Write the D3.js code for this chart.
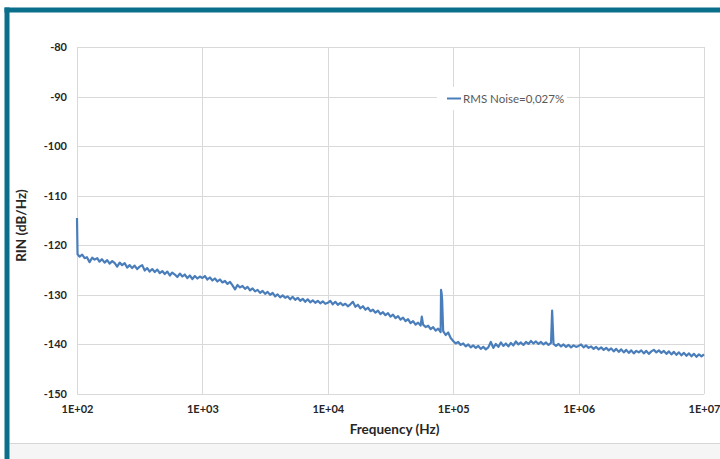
<!DOCTYPE html>
<html>
<head>
<meta charset="utf-8">
<script src="https://cdn.jsdelivr.net/npm/d3@7"></script>
<style>
  html, body { margin: 0; padding: 0; background: #ffffff; }
  svg { display: block; }
  text { font-family: Lato, "Open Sans", "DejaVu Sans", sans-serif; }
</style>
</head>
<body>
<svg id="chart" width="720" height="459"></svg>
<script>
// ---- Data: [frequency (Hz), RIN (dB/Hz)] ----
const decade2 = [
  [100,-114.5],[101,-121.8],[105,-122.3],[110,-121.9],[115,-122.6],[120,-122.4],[126,-123.4],[132,-122.5],[138,-122.9],[145,-122.6],
  [151,-123.3],[158,-122.8],[166,-123.5],[174,-123.0],[182,-123.7],[191,-123.2],[200,-123.6],[209,-124.3],[219,-123.5],[229,-124.0],
  [240,-123.6],[251,-124.5],[263,-124.0],[275,-124.6],[288,-124.1],[302,-124.8],[316,-124.3],[331,-124.0],[347,-125.1],[363,-124.6],
  [380,-125.3],[398,-124.8],[417,-125.4],[437,-124.9],[457,-125.6],[479,-125.2],[501,-125.8],[525,-125.3],[550,-126.1],[575,-125.5],
  [603,-125.9],[631,-126.4],[661,-125.7],[692,-126.3],[724,-125.9],[759,-126.6],[794,-126.1],[832,-126.8],[871,-126.2],[912,-126.7],
  [955,-126.3]
];
const decade3 = [
  [1000,-126.6],[1047,-126.2],[1096,-126.9],[1148,-126.5],[1202,-127.1],[1259,-126.7],[1318,-127.3],[1380,-126.9],[1445,-127.5],[1514,-127.2],
  [1585,-127.8],[1660,-127.4],[1738,-128.1],[1820,-128.9],[1905,-128.0],[1995,-128.5],[2089,-128.2],[2188,-128.8],[2291,-128.4],[2399,-129.1],
  [2512,-128.7],[2630,-129.3],[2754,-129.0],[2884,-129.6],[3020,-129.2],[3162,-129.8],[3311,-129.4],[3467,-130.0],[3631,-129.6],[3802,-130.3],
  [3981,-129.9],[4169,-130.5],[4365,-130.1],[4571,-130.6],[4786,-130.3],[5012,-130.9],[5248,-130.4],[5495,-131.0],[5754,-130.6],[6026,-131.2],
  [6310,-130.8],[6607,-131.4],[6918,-130.9],[7244,-131.5],[7586,-131.1],[7943,-131.6],[8318,-131.2],[8710,-131.7],[9120,-131.3],[9550,-131.8]
];
const decade4 = [
  [10000,-131.6],[10470,-131.2],[10960,-131.9],[11480,-131.4],[12020,-132.0],[12590,-131.6],[13180,-132.1],[13800,-131.8],[14450,-132.3],[15140,-131.9],
  [15850,-131.4],[16600,-132.4],[17380,-132.0],[18200,-132.7],[19050,-132.3],[19950,-133.0],[20890,-132.6],[21880,-133.3],[22910,-133.0],[23990,-133.6],
  [25120,-133.2],[26300,-133.9],[27540,-133.5],[28840,-134.1],[30200,-133.7],[31620,-134.4],[33110,-134.0],[34670,-134.7],[36310,-134.3],[38020,-135.0],
  [39810,-134.6],[41690,-135.3],[43650,-134.9],[45710,-135.7],[47860,-135.3],[50120,-136.0],[52480,-135.6],[54950,-136.2],[56200,-134.4],[57540,-136.0],
  [60260,-136.5],[63100,-136.2],[66070,-136.9],[69180,-136.5],[72440,-137.2],[75860,-136.8],[79430,-137.5],[80000,-129.0],[80800,-129.6],[81600,-131.0],
  [83180,-137.3],[87100,-138.1],[91200,-137.6],[95500,-138.7]
];
const decade5 = [
  [100000,-139.3],[104700,-139.8],[109600,-139.5],[114800,-140.1],[120200,-139.8],[125900,-140.4],[131800,-140.0],[138000,-140.6],[144500,-140.2],[151400,-140.7],
  [158500,-140.3],[166000,-140.9],[173800,-140.5],[182000,-141.0],[190500,-140.6],[199500,-139.5],[208900,-140.7],[218800,-139.9],[229100,-140.5],[239900,-139.6],
  [251200,-140.3],[263000,-139.8],[275400,-140.4],[288400,-139.7],[302000,-140.2],[316200,-139.4],[331100,-140.0],[346700,-139.6],[363100,-140.1],[380200,-139.5],
  [398100,-139.9],[416900,-139.3],[436500,-139.8],[457100,-139.4],[478600,-139.9],[501200,-139.5],[524800,-140.0],[549500,-139.6],[575400,-140.1],[602600,-139.7],
  [615000,-133.2],[631000,-139.9],[660700,-140.3],[691800,-139.9],[724400,-140.4],[758600,-140.0],[794300,-140.5],[831800,-140.1],[871000,-140.6],[912000,-140.2],
  [955000,-140.5]
];
const decade6 = [
  [1000000,-140.3],[1047000,-140.0],[1096000,-140.6],[1148000,-140.2],[1202000,-140.7],[1259000,-140.4],[1318000,-140.9],[1380000,-140.5],[1445000,-141.0],[1514000,-140.6],
  [1585000,-141.1],[1660000,-140.7],[1738000,-141.2],[1820000,-140.8],[1905000,-141.4],[1995000,-140.9],[2089000,-141.5],[2188000,-141.0],[2291000,-141.6],[2399000,-141.1],
  [2512000,-141.7],[2630000,-141.2],[2754000,-141.8],[2884000,-141.3],[3020000,-141.6],[3162000,-141.2],[3311000,-141.8],[3467000,-141.3],[3631000,-141.9],[3802000,-141.4],
  [3981000,-141.1],[4169000,-141.6],[4365000,-141.2],[4571000,-141.7],[4786000,-141.3],[5012000,-141.9],[5248000,-141.4],[5495000,-142.0],[5754000,-141.5],[6026000,-142.1],
  [6310000,-141.6],[6607000,-142.2],[6918000,-141.7],[7244000,-142.3],[7586000,-141.8],[7943000,-142.4],[8318000,-141.9],[8710000,-142.5],[9120000,-142.0],[9550000,-142.4],
  [10000000,-142.0]
];
const xTickValues = [1e2, 1e3, 1e4, 1e5, 1e6, 1e7];
const xTickLabels = ["1E+02", "1E+03", "1E+04", "1E+05", "1E+06", "1E+07"];
const yTickValues = [-150, -140, -130, -120, -110, -100, -90, -80];
const seriesName = "RMS Noise=0,027%";
const xTitle = "Frequency (Hz)";
const yTitle = "RIN (dB/Hz)";

const data = [].concat(decade2, decade3, decade4, decade5, decade6);

// ---- Layout ----
const svg = d3.select("#chart");
const W = 720, H = 459;
const plot = { left: 77, right: 704, top: 47, bottom: 394 };
const teal = "#0a6f8b";
const lineColor = "#4a7ebb";
const gridColor = "#d9d9d9";

// frame decorations
svg.append("rect").attr("x", 0).attr("y", 0).attr("width", W).attr("height", H).attr("fill", "#ffffff");
svg.append("rect").attr("x", 9.5).attr("y", 443).attr("width", W - 9.5).attr("height", H - 443).attr("fill", "#f5f5f5");
svg.append("line").attr("x1", 9.5).attr("x2", W).attr("y1", 443.5).attr("y2", 443.5).attr("stroke", "#d6d6d6");
svg.append("rect").attr("x", 4.5).attr("y", 7.5).attr("width", W - 4.5).attr("height", 5).attr("fill", teal);
svg.append("rect").attr("x", 4.5).attr("y", 7.5).attr("width", 5).attr("height", H - 7.5).attr("fill", teal);

const x = d3.scaleLog().domain([1e2, 1e7]).range([plot.left, plot.right]);
const y = d3.scaleLinear().domain([-150, -80]).range([plot.bottom, plot.top]);

// gridlines
const grid = svg.append("g");
grid.selectAll("line.h").data(yTickValues).join("line")
  .attr("x1", plot.left).attr("x2", plot.right)
  .attr("y1", d => Math.round(y(d)) + 0.5).attr("y2", d => Math.round(y(d)) + 0.5)
  .attr("stroke", gridColor).attr("stroke-width", 1);
grid.selectAll("line.v").data(xTickValues).join("line")
  .attr("x1", d => Math.round(x(d)) + 0.5).attr("x2", d => Math.round(x(d)) + 0.5)
  .attr("y1", plot.top).attr("y2", plot.bottom)
  .attr("stroke", gridColor).attr("stroke-width", 1);

// axes (labels only)
const yAxis = d3.axisLeft(y).tickValues(yTickValues).tickSize(0).tickPadding(10).tickFormat(d => String(d));
const gy = svg.append("g").attr("transform", `translate(${plot.left},0)`).call(yAxis);
gy.select(".domain").remove();
gy.selectAll("text").attr("font-family", "Lato, sans-serif").attr("font-weight", "bold")
  .attr("font-size", 11).attr("fill", "#262626");

const xAxis = d3.axisBottom(x).tickValues(xTickValues).tickSize(0).tickPadding(11)
  .tickFormat((d, i) => xTickLabels[i]);
const gx = svg.append("g").attr("transform", `translate(0,${plot.bottom})`).call(xAxis);
gx.select(".domain").remove();
gx.selectAll("text").attr("font-family", "Lato, sans-serif").attr("font-weight", "bold")
  .attr("font-size", 11).attr("fill", "#262626");

// axis titles
svg.append("text").attr("x", (plot.left + plot.right) / 2 + 4).attr("y", 434)
  .attr("text-anchor", "middle").attr("font-weight", "bold").attr("font-size", 13.5)
  .attr("fill", "#262626").text(xTitle);
svg.append("text").attr("transform", `translate(26,${(plot.top + plot.bottom) / 2 + 5}) rotate(-90)`)
  .attr("text-anchor", "middle").attr("font-weight", "bold").attr("font-size", 13.5)
  .attr("fill", "#262626").text(yTitle);

// series line
const line = d3.line().x(d => x(d[0])).y(d => y(d[1]));
svg.append("path").datum(data).attr("d", line)
  .attr("fill", "none").attr("stroke", lineColor).attr("stroke-width", 2.2)
  .attr("stroke-linejoin", "round");

// legend
const lg = svg.append("g");
lg.append("rect").attr("x", 437).attr("y", 87).attr("width", 130).attr("height", 23).attr("fill", "#ffffff");
lg.append("line").attr("x1", 447).attr("x2", 461).attr("y1", 98.5).attr("y2", 98.5)
  .attr("stroke", lineColor).attr("stroke-width", 2);
lg.append("text").attr("x", 463).attr("y", 102.5).attr("font-size", 11.5).attr("fill", "#595959")
  .text(seriesName);
</script>
</body>
</html>
